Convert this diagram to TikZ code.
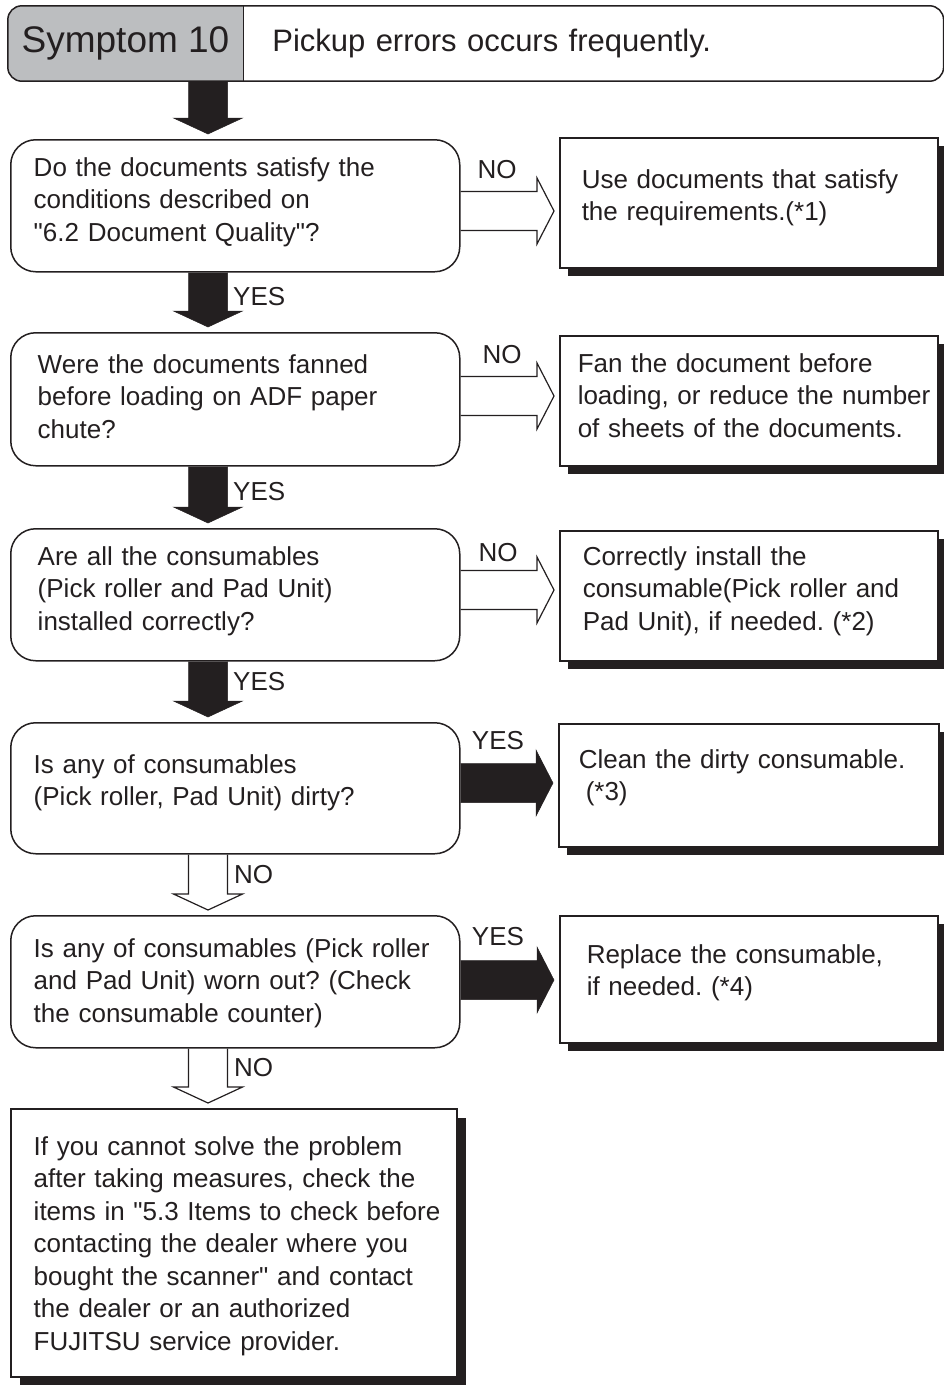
\documentclass[tikz,border=0pt]{standalone}
\usepackage{fontspec}
\setmainfont{Liberation Sans}
\usetikzlibrary{calc,shadows,backgrounds}
\frenchspacing

\definecolor{ink}{HTML}{231F20}
\definecolor{symgray}{HTML}{BCBEC0}

% block arrows between two nodes
\newcommand{\downblock}[3]{%
  \draw[#1] let \p1=(#2.south -| spine), \p2=(#3.north -| spine) in
    (\x1-19.5pt,\y1) -- (\x1-19.5pt,\y2+21pt) -- (\x1-34.5pt,\y2+21pt) -- (\x1,\y2+5pt)
    -- (\x1+34.5pt,\y2+21pt) -- (\x1+19.5pt,\y2+21pt) -- (\x1+19.5pt,\y1);}
\newcommand{\rightblock}[4]{%
  \draw[#1] let \p1=(#2.east), \p2=(#3.west) in
    (\x1,#4+19.5pt) -- (\x2-22pt,#4+19.5pt) -- (\x2-22pt,#4+33pt) -- (\x2-5pt,#4)
    -- (\x2-22pt,#4-33pt) -- (\x2-22pt,#4-19.5pt) -- (\x1,#4-19.5pt);}

\begin{document}
\begin{tikzpicture}[
  x=1pt, y=1pt,
  font=\fontsize{26}{32.5}\selectfont,
  every node/.style={text=ink},
  qbox/.style={draw=ink, line width=1.5pt, rounded corners=25pt, inner sep=0pt, anchor=north west, align=left},
  abox/.style={draw=ink, line width=1.5pt, fill=white, inner sep=0pt, anchor=north west, align=left,
    drop shadow={shadow xshift=#1, shadow yshift=-#1, fill=ink, opacity=1}},
  abox/.default=8pt,
  pad/.style={execute at begin node={\leftskip=#1pt\rightskip=0pt plus 1fil}},
  symcell/.style={minimum width=235pt, minimum height=75pt, inner sep=0pt, font=\fontsize{37}{44}\selectfont},
  probcell/.style={minimum height=75pt, inner xsep=29pt, inner ysep=0pt, text width=642pt, align=left, font=\fontsize{31}{38}\selectfont},
  lbl/.style={inner sep=0pt},
  blk/.style={fill=ink, draw=ink, line width=0.5pt},
  hollow/.style={draw=ink, line width=1.2pt, line join=miter}
]
\useasboundingbox (0,0) rectangle (944,-1385);
\coordinate (spine) at (208,0);

% header
\node[symcell] (symptom) at (125.5,-43.5) {Symptom 10};
\node[probcell, anchor=west] (problem) at (symptom.east) {Pickup errors occurs frequently.};
\begin{scope}[on background layer]
  \clip[rounded corners=14pt] (symptom.north west) rectangle (problem.south east);
  \fill[symgray] (symptom.north west) rectangle (symptom.south east);
\end{scope}
\draw[ink, line width=1.5pt, rounded corners=14pt] (symptom.north west) rectangle (problem.south east);
\draw[ink, line width=1.2pt] (symptom.north east) -- (symptom.south east);

% questions
\node[qbox, pad=23, text width=449pt, text height=36.5pt, text depth=95.5pt] (q1) at (10,-139)
  {Do the documents satisfy the\\conditions described on\\\textquotedbl 6.2 Document Quality\textquotedbl ?};
\node[qbox, pad=27, text width=449pt, text height=40.5pt, text depth=92.5pt] (q2) at (10,-332)
  {Were the documents fanned\\before loading on ADF paper\\chute?};
\node[qbox, pad=27, text width=449pt, text height=36.5pt, text depth=95.5pt] (q3) at (10,-528)
  {Are all the consumables\\(Pick roller and Pad Unit)\\installed correctly?};
\node[qbox, pad=23, text width=449pt, text height=50.5pt, text depth=80.5pt] (q4) at (10,-722)
  {Is any of consumables\\(Pick roller, Pad Unit) dirty?};
\node[qbox, pad=23, text width=449pt, text height=41.5pt, text depth=90.5pt] (q5) at (10,-915)
  {Is any of consumables (Pick roller\\and Pad Unit) worn out? (Check\\the consumable counter)};
\node[abox=9pt, pad=23, text width=446pt, text height=46.5pt, text depth=221.5pt] (fin) at (10,-1108)
  {If you cannot solve the problem\\after taking measures, check the\\items in \textquotedbl 5.3 Items to check before\\contacting the dealer where you\\bought the scanner\textquotedbl{} and contact\\the dealer or an authorized\\FUJITSU service provider.};

% actions
\node[abox, pad=22, text width=378pt, text height=50.5pt, text depth=79.5pt] (a1) at (559,-137)
  {Use documents that satisfy\\the requirements.(*1)};
\node[abox, pad=18, text width=378pt, text height=36.5pt, text depth=93.5pt] (a2) at (559,-335)
  {Fan the document before\\loading, or reduce the number\\of sheets of the documents.};
\node[abox, pad=23, text width=378pt, text height=34.5pt, text depth=95.5pt] (a3) at (559,-530)
  {Correctly install the\\consumable(Pick roller and\\Pad Unit), if needed. (*2)};
\node[abox, pad=20, text width=380pt, text height=44.5pt, text depth=78.5pt] (a4) at (558,-723)
  {Clean the dirty consumable.\\\hspace*{7pt}(*3)};
\node[abox, pad=27, text width=378pt, text height=47.5pt, text depth=79.5pt] (a5) at (559,-915)
  {Replace the consumable,\\if needed. (*4)};

% flow
\downblock{blk}{symptom}{q1}
\downblock{blk}{q1}{q2}
\downblock{blk}{q2}{q3}
\downblock{blk}{q3}{q4}
\downblock{hollow}{q4}{q5}
\downblock{hollow}{q5}{fin}
\rightblock{hollow}{q1}{a1}{-211pt}
\rightblock{hollow}{q2}{a2}{-396pt}
\rightblock{hollow}{q3}{a3}{-590pt}
\rightblock{blk}{q4}{a4}{-783pt}
\rightblock{blk}{q5}{a5}{-980pt}

% answers
\node[lbl, anchor=west] (yes1) at (233,-297) {YES};
\node[lbl, anchor=west] (yes2) at (233,-492) {YES};
\node[lbl, anchor=west] (yes3) at (233,-682) {YES};
\node[lbl, anchor=west] (no4) at (234,-875) {NO};
\node[lbl, anchor=west] (no5) at (234,-1068) {NO};
\node[lbl] (no1) at (497,-170) {NO};
\node[lbl] (no2) at (502,-355) {NO};
\node[lbl] (no3) at (498,-553) {NO};
\node[lbl] (yes4) at (498,-741) {YES};
\node[lbl] (yes5) at (498,-937) {YES};
\end{tikzpicture}
\end{document}
